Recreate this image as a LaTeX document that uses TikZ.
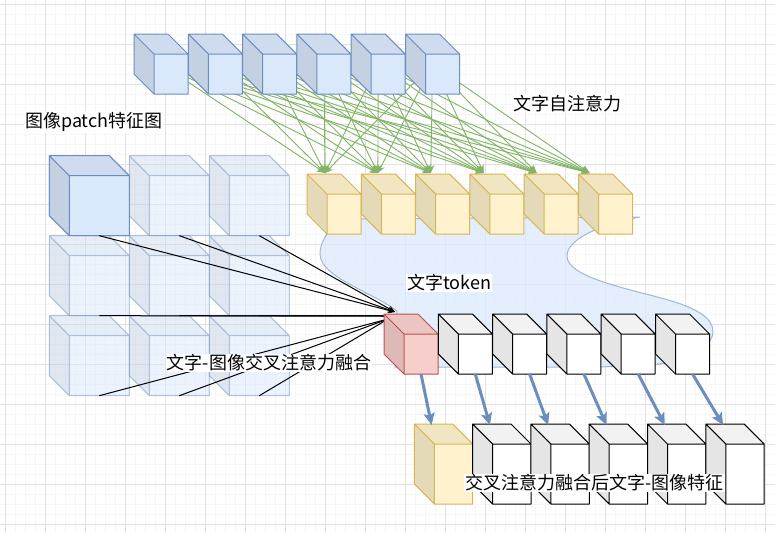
\documentclass[tikz,border=0pt]{standalone}
\usepackage{fontspec}
\newfontfamily\cjk{Noto Sans CJK SC}
\usetikzlibrary{arrows.meta}
\definecolor{bfill}{HTML}{DAE8FC}
\definecolor{bline}{HTML}{6C8EBF}
\definecolor{yfill}{HTML}{FFF2CC}
\definecolor{yline}{HTML}{D6B656}
\definecolor{rfill}{HTML}{F8CECC}
\definecolor{rline}{HTML}{B85450}
\definecolor{wfill}{HTML}{FFFFFF}
\definecolor{kline}{HTML}{000000}
\definecolor{gline}{HTML}{82B366}
\definecolor{gridmaj}{HTML}{E2E2E2}
\definecolor{gridmin}{HTML}{F6F6F6}
% #1 name, #2 x, #3 y, #4 W, #5 H, #6 depth, #7 fill, #8 line, #9 options
\newcommand\cubeat[9]{%
  \begin{scope}[#9]
  \fill[#7!90!black] (#2,#3) -- (#2+#6,#3+#6) -- (#2+#6,#3+#5) -- (#2,#3+#5-#6) -- cycle;
  \fill[#7!95!black] (#2,#3) -- (#2+#4-#6,#3) -- (#2+#4,#3+#6) -- (#2+#6,#3+#6) -- cycle;
  \fill[#7] (#2+#6,#3+#6) rectangle (#2+#4,#3+#5);
  \draw[#8, line width=1pt, line join=round] (#2,#3) -- (#2+#4-#6,#3) -- (#2+#4,#3+#6) -- (#2+#4,#3+#5) -- (#2+#6,#3+#5) -- (#2,#3+#5-#6) -- cycle
     (#2,#3) -- (#2+#6,#3+#6) -- (#2+#4,#3+#6) (#2+#6,#3+#6) -- (#2+#6,#3+#5);
  \end{scope}
  \coordinate (#1) at (#2+#4/2,#3+#5/2);
  \coordinate (#1-b) at (#2+#6/2+#4/2,#3+#5);
  \coordinate (#1-t) at (#2+0.45*#4-0.45*#6,#3);
}
\tikzset{
  lbl/.style={font=\cjk\fontsize{18}{21}\selectfont, inner sep=1pt, fill=white, text=black},
  garrow/.style={draw=gline, line width=0.9pt, -{Stealth[length=8pt,width=7pt]}},
  karrow/.style={draw=black, line width=1pt, -{Stealth[length=7pt,width=6pt]}},
  kline/.style={draw=black, line width=1pt},
  barrow/.style={draw=bline, line width=3pt, -{Stealth[length=12pt,width=11pt,inset=2.5pt]}},
}
\begin{document}
\begin{tikzpicture}[x=1pt,y=-1pt]
\useasboundingbox (0,0) rectangle (775,533);
\fill[white] (0,0) rectangle (775,533);
% grid
\foreach \k in {0,...,77} \draw[gridmin, line width=0.8pt] (5+10*\k,0) -- (5+10*\k,533);
\foreach \k in {0,...,53} \draw[gridmin, line width=0.8pt] (0,4.3+10*\k) -- (775,4.3+10*\k);
\foreach \k in {0,...,19} \draw[gridmaj, line width=1pt] (5+40*\k,0) -- (5+40*\k,533);
\foreach \k in {0,...,13} \draw[gridmaj, line width=1pt] (0,4.3+40*\k) -- (775,4.3+40*\k);
% wave band
\path[fill=bfill, fill opacity=0.7, draw=bline, draw opacity=0.6, line width=1pt]
  (345,219) -- (640,217)
  .. controls (612,222) and (567,236) .. (567,256)
  .. controls (567,276) and (620,287) .. (665,299)
  .. controls (700,309) and (717,320) .. (712,337)
  .. controls (705,352) and (682,362) .. (650,365)
  -- (600,367) -- (395,367) -- (397,311)
  .. controls (372,292) and (320,277) .. (320,254)
  .. controls (320,238) and (333,225) .. (345,219) -- cycle;
% targets on the yellow cubes
\foreach \j in {1,...,6} \coordinate (y\j-in) at (307+54.3*\j-54.3+18-1.4*\j+1.4,173);
% top blue cube centres (for the connectors, drawn below the cubes)
\foreach \i in {1,...,6} \coordinate (t\i) at (134+54.3*\i-54.3+27,64);
\foreach \i in {1,...,6} \foreach \j in {1,...,6} \draw[garrow] (t\i) -- (y\j-in);
% top blue cubes
\foreach \i in {1,...,6} \cubeat{t\i}{134+54.3*\i-54.3}{34}{54}{60}{20}{bfill}{bline}{};
% yellow cubes
\foreach \j in {1,...,6} \cubeat{y\j}{307+54.3*\j-54.3}{174}{54}{60}{20}{yfill}{yline}{};
% image patch grid
\foreach \r in {1,2,3} \foreach \c in {1,2,3} {
  \cubeat{p\r\c}{49.3+80*\c-80}{155.7+80*\r-80}{80}{80}{20}{bfill}{bline}{opacity=0.5};
}
\cubeat{p11}{49.3}{155.7}{80}{80}{20}{bfill}{bline}{};
% attention lines into the red token
\coordinate (r-in1) at (395,312);
\coordinate (r-in2) at (388,316);
\coordinate (r-in3) at (388,319);
\foreach \c in {1,2,3} {
  \draw[karrow] (p1\c-b) -- (r-in1);
  \draw[kline] (p2\c-b) -- (r-in2);
  \draw[kline] (p3\c-b) -- (r-in3);
}
% text token row
\cubeat{k1}{384}{314}{54}{60}{20}{rfill}{rline}{};
\foreach \i in {2,...,6} \cubeat{k\i}{384+54.3*\i-54.3}{314}{54}{60}{20}{wfill}{kline}{};
% fused feature row
\cubeat{f1}{414.3}{424}{58.4}{80}{20}{yfill}{yline}{};
\foreach \i in {2,...,6} \cubeat{f\i}{414.3+58.3*\i-58.3}{424}{58.4}{80}{20}{wfill}{kline}{};
\foreach \i in {1,...,6} \draw[barrow] (k\i-b) -- ([yshift=-1pt]f\i-t);
% labels
\node[lbl] (l1) at (93.8,122) {图像patch特征图};
\node[lbl] (l2) at (567,103.5) {文字自注意力};
\node[lbl] (l3) at (449,283) {文字token};
\node[lbl] (l4) at (269,363) {文字-图像交叉注意力融合};
\node[lbl] (l5) at (594.5,483) {交叉注意力融合后文字-图像特征};
\end{tikzpicture}
\end{document}
